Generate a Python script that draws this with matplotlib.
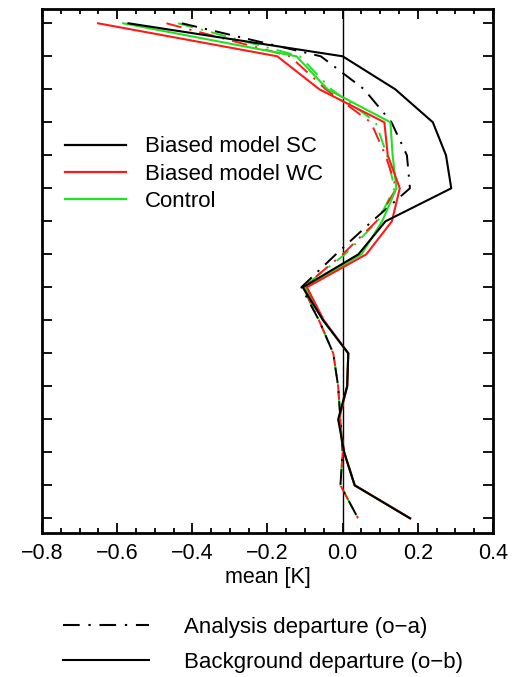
import matplotlib
matplotlib.use("Agg")
import matplotlib.pyplot as plt
from matplotlib.lines import Line2D

plt.rcParams['font.family'] = ['Liberation Sans', 'DejaVu Sans']

# Vertical levels (top to bottom)
levels = list(range(1, 17))

# Mean departures [K] per level
sc_ob = [-0.570, 0.000, 0.140, 0.240, 0.275, 0.289, 0.114, 0.042,
         -0.106, -0.052, 0.015, 0.012, -0.012, 0.004, 0.032, 0.179]
sc_oa = [-0.428, -0.058, 0.057, 0.130, 0.171, 0.179, 0.078, -0.018,
         -0.110, -0.063, -0.025, -0.012, -0.006, 0.000, -0.006, 0.041]
wc_ob = [-0.651, -0.174, -0.062, 0.111, 0.120, 0.152, 0.131, 0.063,
         -0.095, -0.050, 0.015, 0.012, -0.010, 0.004, 0.032, 0.180]
wc_oa = [-0.469, -0.140, -0.045, 0.075, 0.114, 0.143, 0.090, 0.000,
         -0.105, -0.063, -0.025, -0.012, -0.006, 0.000, -0.006, 0.041]
ctl_ob = [-0.584, -0.123, -0.040, 0.127, 0.133, 0.143, 0.105, 0.050,
          -0.100, -0.052, 0.015, 0.012, -0.010, 0.004, 0.032, 0.180]
ctl_oa = [-0.438, -0.114, -0.030, 0.088, 0.118, 0.138, 0.093, 0.006,
          -0.106, -0.063, -0.025, -0.012, -0.006, 0.000, -0.006, 0.041]

series_labels = ["Biased model SC", "Biased model WC", "Control"]
style_labels = ["Analysis departure (o\u2212a)", "Background departure (o\u2212b)"]
x_ticks = [-0.8, -0.6, -0.4, -0.2, 0.0, 0.2, 0.4]

BLACK = "#000000"
RED = "#ff1a1a"
GREEN = "#22e022"
LW_SOLID = 1.5
LW_DD = 1.4
DASHDOT = (0, (8.0, 4.2, 1.1, 4.2))

fig = plt.figure(figsize=(5.22, 6.77), dpi=100)
ax = fig.add_axes([0.0805, 0.2127, 0.8639, 0.774])

ax.axvline(0.0, color="black", lw=1.0, zorder=1)

ax.plot(ctl_oa, levels, color=GREEN, lw=LW_DD, ls=DASHDOT, zorder=2)
ax.plot(wc_oa, levels, color=RED, lw=LW_DD, ls=DASHDOT, zorder=2)
ax.plot(sc_oa, levels, color=BLACK, lw=LW_DD, ls=DASHDOT, zorder=2)
h_ctl, = ax.plot(ctl_ob, levels, color=GREEN, lw=LW_SOLID, zorder=3)
h_wc, = ax.plot(wc_ob, levels, color=RED, lw=LW_SOLID, zorder=3)
h_sc, = ax.plot(sc_ob, levels, color=BLACK, lw=LW_SOLID, zorder=4)

ax.set_xlim(-0.8, 0.4)
ax.set_ylim(16.445, 0.567)
ax.set_xticks(x_ticks)
ax.set_xticklabels([f"{t:.1f}".replace("-", "\u2212") for t in x_ticks])
ax.set_xticks([v / 100 for v in range(-80, 41, 5)], minor=True)
ax.set_yticks(levels)
ax.set_yticklabels([])
ax.tick_params(axis="x", which="major", direction="in", length=7.2, width=1.3,
               top=True, bottom=True, labelsize=15.5, pad=7, colors="black")
ax.tick_params(axis="x", which="minor", direction="in", length=3.6, width=1.3,
               top=True, bottom=True)
ax.tick_params(axis="y", which="major", direction="in", length=7.2, width=1.3,
               left=True, right=True)
for sp in ax.spines.values():
    sp.set_linewidth(2.0)
ax.set_xlabel("mean [K]", fontsize=15.5, labelpad=2)

leg = ax.legend([h_sc, h_wc, h_ctl], series_labels, loc="upper left",
                bbox_to_anchor=(0.051, 0.757), frameon=False, fontsize=16,
                handlelength=2.75, handletextpad=0.83, labelspacing=0.28,
                borderpad=0, borderaxespad=0)
for ln in leg.get_lines():
    ln.set_linewidth(1.6)

style_handles = [Line2D([], [], color="black", lw=1.5, ls=DASHDOT),
                 Line2D([], [], color="black", lw=1.5)]
fig.legend(style_handles, style_labels, loc="upper left",
           bbox_to_anchor=(0.1207, 0.089), frameon=False, fontsize=16,
           handlelength=3.85, handletextpad=1.6, labelspacing=0.62,
           borderpad=0, borderaxespad=0)

fig.savefig("out.png", dpi=100)
